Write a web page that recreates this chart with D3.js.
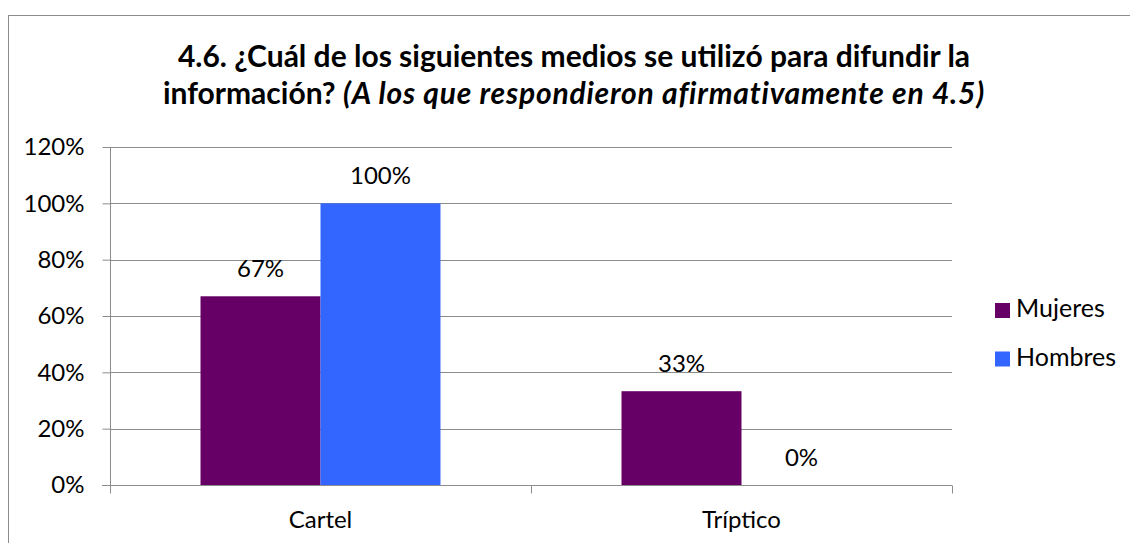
<!DOCTYPE html>
<html>
<head>
<meta charset="utf-8">
<script src="https://cdn.jsdelivr.net/npm/d3@7"></script>
<style>
  body { margin: 0; background: #fff; }
  svg { display: block; font-family: Lato, "Open Sans", sans-serif; }
</style>
</head>
<body>
<svg id="chart" width="1130" height="543"></svg>
<script>
// chart data
var categories = ['Cartel', 'Tríptico'];
var seriesNames = ['Mujeres', 'Hombres'];
var mujeres = [0.67, 0.333];
var hombres = [1.0, 0];
var valueLabels = [['67%', '100%'], ['33%', '0%']];
var yTicks = [0, 0.2, 0.4, 0.6, 0.8, 1.0, 1.2];
var colors = ['#660066', '#3366FF'];

var svg = d3.select('#chart');
var margin = {left: 110, right: 178, top: 147, bottom: 58};
var width = 1130 - margin.left - margin.right;
var height = 543 - margin.top - margin.bottom;
var fs = 24;

// outer chart border (runs off the right and bottom)
svg.append('rect')
  .attr('x', 8.5).attr('y', 15.5)
  .attr('width', 1200).attr('height', 600)
  .attr('fill', 'none').attr('stroke', '#8c8c8c');

// title
var title = svg.append('text')
  .attr('text-anchor', 'middle')
  .attr('font-weight', 'bold')
  .attr('font-size', 30)
  .attr('fill', '#000');
title.append('tspan').attr('x', 574).attr('y', 67)
  .text('4.6. ¿Cuál de los siguientes medios se utilizó para difundir la');
var line2 = title.append('tspan').attr('x', 574).attr('y', 104);
line2.append('tspan').text('información? ');
line2.append('tspan').attr('font-style', 'italic').attr('letter-spacing', 0.8)
  .text('(A los que respondieron afirmativamente en 4.5)');

var g = svg.append('g').attr('transform', 'translate(' + margin.left + ',' + margin.top + ')');

var x0 = d3.scaleBand().domain(categories).range([0, width])
  .paddingInner(0.43).paddingOuter(0.215);
var x1 = d3.scaleBand().domain(seriesNames).range([0, x0.bandwidth()]);
var y = d3.scaleLinear().domain([0, 1.2]).range([height, 0]);

// gridlines
g.selectAll('.grid').data(yTicks.slice(1)).enter().append('line')
  .attr('x1', 0).attr('x2', width)
  .attr('y1', function(d) { return Math.round(y(d)) + 0.5; })
  .attr('y2', function(d) { return Math.round(y(d)) + 0.5; })
  .attr('stroke', '#8c8c8c').attr('stroke-width', 1);

// bars
var rows = categories.map(function(c, i) {
  return {cat: c, vals: [mujeres[i], hombres[i]], labels: valueLabels[i]};
});
var groups = g.selectAll('.grp').data(rows).enter().append('g')
  .attr('transform', function(d) { return 'translate(' + x0(d.cat) + ',0)'; });

groups.selectAll('rect').data(function(d) { return d.vals; }).enter().append('rect')
  .attr('x', function(d, i) { return x1(seriesNames[i]); })
  .attr('width', x1.bandwidth())
  .attr('y', function(d) { return y(d); })
  .attr('height', function(d) { return height - y(d); })
  .attr('fill', function(d, i) { return colors[i]; });

groups.selectAll('.lbl').data(function(d) {
  return d.vals.map(function(v, i) { return {v: v, t: d.labels[i]}; });
}).enter().append('text')
  .attr('x', function(d, i) { return x1(seriesNames[i]) + x1.bandwidth() / 2; })
  .attr('y', function(d) { return y(d.v) - 19; })
  .attr('text-anchor', 'middle')
  .attr('font-size', fs)
  .attr('fill', '#000')
  .text(function(d) { return d.t; });

// y axis
var yAxis = d3.axisLeft(y).tickValues(yTicks).tickSize(8).tickPadding(18)
  .tickFormat(d3.format('.0%'));
var ya = g.append('g').attr('transform', 'translate(0.5,0)').call(yAxis);
ya.selectAll('text').attr('font-size', fs).attr('font-family', 'Lato, sans-serif').attr('fill', '#000');
ya.selectAll('line, path').attr('stroke', '#8c8c8c');
ya.select('.domain').attr('d', 'M0,0V' + (height + 8));

// x axis
var xa = g.append('g').attr('transform', 'translate(0,' + (Math.round(height) + 0.5) + ')');
xa.append('line').attr('x1', -8).attr('x2', width).attr('stroke', '#8c8c8c');
var xTicks = [0, x0.step(), width];
xa.selectAll('.xt').data(xTicks).enter().append('line')
  .attr('x1', function(d) { return Math.round(d) + 0.5; })
  .attr('x2', function(d) { return Math.round(d) + 0.5; })
  .attr('y1', 0).attr('y2', 8)
  .attr('stroke', '#8c8c8c');
xa.selectAll('.xl').data(categories).enter().append('text')
  .attr('x', function(d) { return x0(d) + x0.bandwidth() / 2; })
  .attr('y', 42)
  .attr('text-anchor', 'middle')
  .attr('font-size', fs)
  .attr('fill', '#000')
  .text(function(d) { return d; });

// legend
var legend = svg.append('g').attr('transform', 'translate(995,303)');
var items = legend.selectAll('g').data(seriesNames).enter().append('g')
  .attr('transform', function(d, i) { return 'translate(0,' + (i * 48.5) + ')'; });
items.append('rect').attr('width', 15).attr('height', 15)
  .attr('fill', function(d, i) { return colors[i]; });
items.append('text').attr('x', 21).attr('y', 14)
  .attr('font-size', 25).attr('fill', '#000')
  .text(function(d) { return d; });
</script>
</body>
</html>
